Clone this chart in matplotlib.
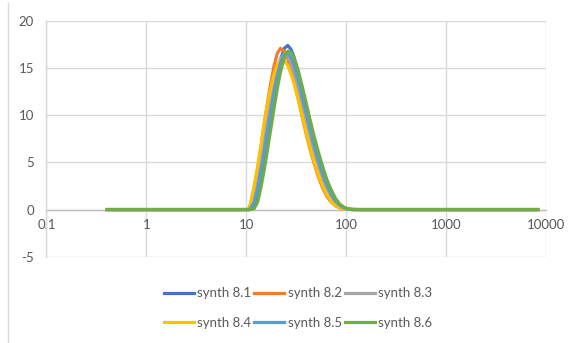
import matplotlib
matplotlib.use("Agg")
import matplotlib.pyplot as plt
from matplotlib.lines import Line2D

# Particle size (x) and distribution values for each synthesis
sizes = [0.39, 1, 5, 10, 10.5, 11, 12, 13, 14, 15, 16, 17.5, 19, 20.5, 22, 24, 26, 28, 30,
         33, 36, 40, 44, 48, 53, 58, 64, 70, 78, 86, 95, 105, 115, 130, 200, 1000, 8600]

synth_81 = [0, 0, 0, 0, 0, 0, 0.4, 1.8, 3.6, 5.6, 7.5, 9.9, 12.3, 14.4, 15.9, 17.1, 17.4, 17.0, 16.2,
            14.6, 12.9, 10.8, 8.9, 7.3, 5.6, 4.2, 2.9, 1.9, 1.0, 0.5, 0.2, 0.06, 0.01, 0, 0, 0, 0]
synth_82 = [0, 0, 0, 0, 0, 0.5, 2.3, 4.4, 6.6, 8.8, 10.8, 13.3, 15.3, 16.6, 17.1, 16.8, 16.0, 14.9, 13.7,
            11.8, 10.0, 7.9, 6.2, 4.8, 3.4, 2.3, 1.4, 0.85, 0.4, 0.17, 0.06, 0.02, 0, 0, 0, 0, 0]
synth_83 = [0, 0, 0, 0, 0, 0.2, 1.2, 2.9, 4.8, 6.9, 8.8, 11.3, 13.4, 15.0, 16.0, 16.5, 16.3, 15.6, 14.6,
            12.9, 11.2, 9.1, 7.3, 5.8, 4.3, 3.1, 2.0, 1.25, 0.6, 0.28, 0.1, 0.03, 0, 0, 0, 0, 0]
synth_84 = [0, 0, 0, 0, 0, 0.6, 2.5, 4.6, 6.7, 9.0, 10.7, 12.8, 14.4, 15.4, 15.8, 15.8, 15.3, 14.4, 13.4,
            11.7, 10.1, 8.1, 6.4, 5.0, 3.6, 2.5, 1.6, 0.95, 0.45, 0.2, 0.07, 0.02, 0, 0, 0, 0, 0]
synth_85 = [0, 0, 0, 0, 0, 0.1, 0.8, 2.3, 4.1, 6.0, 7.9, 10.3, 12.5, 14.3, 15.6, 16.4, 16.6, 16.1, 15.3,
            13.8, 12.1, 10.1, 8.3, 6.7, 5.1, 3.8, 2.6, 1.7, 0.9, 0.45, 0.18, 0.05, 0.01, 0, 0, 0, 0]
synth_86 = [0, 0, 0, 0, 0, 0, 0.1, 0.8, 2.3, 4.0, 5.8, 8.4, 10.8, 12.9, 14.6, 16.1, 16.8, 16.7, 16.1,
            14.8, 13.2, 11.2, 9.3, 7.7, 6.0, 4.6, 3.2, 2.2, 1.2, 0.6, 0.25, 0.08, 0.02, 0, 0, 0, 0]

series_names = ["synth 8.1", "synth 8.2", "synth 8.3", "synth 8.4", "synth 8.5", "synth 8.6"]
series_values = [synth_81, synth_82, synth_83, synth_84, synth_85, synth_86]
colors = ["#4472C4", "#ED7D31", "#A5A5A5", "#FFC000", "#5B9BD5", "#70AD47"]

x_ticks = [0.1, 1, 10, 100, 1000, 10000]
x_tick_labels = ["0.1", "1", "10", "100", "1000", "10000"]
y_ticks = [-5, 0, 5, 10, 15, 20]

plt.rcParams['font.family'] = ['Lato', 'DejaVu Sans']
text_color = "#595959"
grid_color = "#D9D9D9"

fig = plt.figure(figsize=(5.69, 3.43), dpi=100)
ax = fig.add_axes([0.0817, 0.2516, 0.9596 - 0.0817, 0.9388 - 0.2516])

for name, vals, col in zip(series_names, series_values, colors):
    ax.plot(sizes, vals, color=col, lw=2.3, solid_capstyle='butt', zorder=3)

ax.set_xscale('log')
ax.set_xlim(0.1, 10000)
ax.set_ylim(-5, 20)
ax.set_xticks(x_ticks)
ax.set_xticklabels(x_tick_labels)
ax.minorticks_off()
ax.set_yticks(y_ticks)
ax.set_yticklabels([str(v) for v in y_ticks])

ax.grid(True, color=grid_color, lw=1.0, zorder=0)
for side in ['top', 'right']:
    ax.spines[side].set_visible(False)
ax.spines['left'].set_color(grid_color)
ax.spines['left'].set_linewidth(1.0)
ax.spines['bottom'].set_position(('data', 0))
ax.spines['bottom'].set_color("#BFBFBF")
ax.spines['bottom'].set_linewidth(1.0)
ax.spines['bottom'].set_zorder(2)
ax.tick_params(length=0, labelsize=9.5, colors=text_color)
ax.tick_params(axis='x', pad=7)
ax.tick_params(axis='y', pad=9)

# chart area border on the left
fig.add_artist(Line2D([8 / 569, 8 / 569], [0, 1 - 3 / 343], color=grid_color, lw=1.0))

# legend in reading order: two rows of three
handles = [Line2D([], [], color=c, lw=2.3) for c in colors]
order = [0, 3, 1, 4, 2, 5]
leg = fig.legend([handles[i] for i in order], [series_names[i] for i in order],
                 ncol=3, loc='center', bbox_to_anchor=(298 / 569, 1 - 308 / 343),
                 frameon=False, fontsize=9.5, handlelength=2.3, handletextpad=0.25,
                 columnspacing=0.2, labelspacing=1.3, borderpad=0)
for t in leg.get_texts():
    t.set_color(text_color)

fig.savefig("out.png", dpi=100)
